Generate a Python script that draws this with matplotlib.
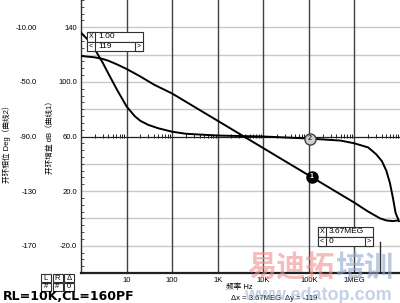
import matplotlib
matplotlib.use('Agg')
import matplotlib.pyplot as plt
from matplotlib.patches import Rectangle

plt.rcParams['font.family'] = ['Liberation Sans', 'Noto Sans CJK SC', 'DejaVu Sans']

# open loop gain (curve 1)
gain_freq = [1, 2, 3, 4, 6, 10, 20, 40, 100, 1e3, 1e4, 1e5, 1e6, 2e6, 3.67e6, 5e6, 7e6, 9e6]
gain_db = [119, 118, 116.8, 115.5, 113, 109.5, 104, 98, 91.5, 71.5, 51.5, 31.5, 11.5, 5, 0, -1.5, -2, -1.5]

# open loop phase (curve 2)
phase_freq = [1, 1.5, 2, 3, 4, 6, 10, 15, 20, 30, 50, 100, 200, 1e3, 1e4, 1e5, 5e5, 1e6,
              2e6, 3e6, 4e6, 5e6, 6e6, 7e6, 8e6, 9.5e6]
phase_deg = [-14, -20, -26, -36, -44, -55, -68, -75, -78.5, -81.5, -84, -86.5, -88, -89.3, -90,
             -91.5, -93, -95, -98, -103, -108, -115, -124, -135, -146, -152]

x_ticks = [10, 100, 1e3, 1e4, 1e5, 1e6]
x_labels = ['10', '100', '1K', '10K', '100K', '1MEG']
gain_ticks = [140, 100, 60, 20, -20]
gain_labels = ['140', '100.0', '60.0', '20.0', '-20.0']
phase_ticks = [-10, -50, -90, -130, -170]
phase_labels = ['-10.00', '-50.0', '-90.0', '-130', '-170']

cursor2 = (3.67e6, 0)
mark1 = (1.17e5, 30.6)
mark2 = (1.05e5, -91.5)

fig = plt.figure(figsize=(4.0, 3.03), dpi=100)
ax = fig.add_axes([81/400, 30/303, 319/400, 273/303])
ax.set_xscale('log')
ax.set_xlim(1, 1e7)
ax.set_ylim(-40, 160)

for s in ['top', 'right']:
    ax.spines[s].set_visible(False)
ax.spines['left'].set_color('#303030')
ax.spines['left'].set_linewidth(1.0)
ax.spines['bottom'].set_color('#202020')
ax.spines['bottom'].set_linewidth(1.6)

# grid
for y in [140, 120, 100, 80, 40, 20, 0, -20]:
    ax.axhline(y, color='#c8c8c8', lw=1.0, zorder=0)
for x in x_ticks:
    ax.axvline(x, color='#404040', lw=1.0, zorder=1)
ax.axhline(60, color='#202020', lw=0.9, zorder=1)
mid = ax.secondary_xaxis(0.5)
mid.spines['bottom'].set_visible(False)
mid.spines['top'].set_visible(False)
mid.set_xticks([])
mid.xaxis.set_minor_locator(matplotlib.ticker.LogLocator(base=10, subs=range(2, 10), numticks=20))
mid.tick_params(which='minor', direction='inout', length=3, width=0.7, color='#202020', labelbottom=False)

ax.set_xticks(x_ticks)
ax.set_xticklabels(x_labels)
ax.xaxis.set_minor_locator(matplotlib.ticker.NullLocator())
ax.tick_params(axis='x', length=0, pad=3, labelsize=5.5)
ax.set_yticks(gain_ticks)
ax.set_yticklabels(gain_labels)
ax.yaxis.set_minor_locator(matplotlib.ticker.MultipleLocator(5))
ax.tick_params(axis='y', which='major', length=0, pad=3, labelsize=5.5)
ax.tick_params(axis='y', which='minor', direction='in', length=2, width=0.6, color='#303030')

ax2 = ax.twinx()
ax2.set_ylim(-190, 10)
for s in ax2.spines.values():
    s.set_visible(False)
ax2.yaxis.set_ticks_position('left')
ax2.set_yticks(phase_ticks)
ax2.set_yticklabels(phase_labels)
ax2.tick_params(axis='y', length=0, pad=32, labelsize=5.5)

ax.plot(gain_freq, gain_db, color='black', lw=1.4, zorder=3)
ax2.plot(phase_freq, phase_deg, color='black', lw=1.4, zorder=3)

# markers 1 and 2
ax.plot(*mark1, 'o', ms=8, mfc='black', mec='black', zorder=5)
ax.text(*mark1, '1', color='white', fontsize=5, fontweight='bold', ha='center', va='center', zorder=6)
ax2.plot(*mark2, 'o', ms=8, mfc='#d0d0d0', mec='#404040', mew=1, zorder=5)
ax2.text(*mark2, '2', color='#303030', fontsize=5, fontweight='bold', ha='center', va='center', zorder=6)

# cursor line
ax.plot([cursor2[0], cursor2[0]], [-40, -17], color='#303030', lw=1.0, zorder=2)


def cursor_box(x0, y0, w, xval, yval):
    # x0, y0 = top-left corner in pixels
    h = 9.5
    def R(x, y, ww, hh):
        fig.add_artist(Rectangle((x/400, 1 - (y + hh)/303), ww/400, hh/303, transform=fig.transFigure,
                                 fc='white', ec='#303030', lw=0.8, zorder=10))
    R(x0, y0, w, h)
    R(x0, y0, 8, h)
    R(x0, y0 + h, w, h)
    R(x0, y0 + h, 8, h)
    R(x0 + w - 8, y0 + h, 8, h)
    fig.text((x0 + 4)/400, 1 - (y0 + h/2)/303, 'X', fontsize=5, ha='center', va='center', zorder=11)
    fig.text((x0 + 4)/400, 1 - (y0 + 1.5*h)/303, '<', fontsize=5, ha='center', va='center', zorder=11)
    fig.text((x0 + w - 4)/400, 1 - (y0 + 1.5*h)/303, '>', fontsize=5, ha='center', va='center', zorder=11)
    fig.text((x0 + 11)/400, 1 - (y0 + h/2)/303, xval, fontsize=6, ha='left', va='center', zorder=11)
    fig.text((x0 + 11)/400, 1 - (y0 + 1.5*h)/303, yval, fontsize=6, ha='left', va='center', zorder=11)


cursor_box(87, 32, 56, '1.00', '119')
cursor_box(318, 227, 55, '3.67MEG', '0')

# axis titles
fig.text(50/400, 1 - 136/303, '开环增益 dB（曲线1）', rotation=90, fontsize=5.5, ha='center', va='center')
fig.text(7/400, 1 - 142/303, '开环相位 Deg（曲线2）', rotation=90, fontsize=5.5, ha='center', va='center')
fig.text(239/400, 1 - 287/303, '频率 Hz', fontsize=5.5, ha='center', va='center')
fig.text(274/400, 1 - 299/303, 'Δx = 3.67MEG  Δy = -119', fontsize=5.5, ha='center', va='center')

# L R delta boxes
for i, (a, b) in enumerate([('L', '#'), ('R', '#'), ('Δ', '0')]):
    x = 41 + i*11.5
    for j, t in enumerate([a, b]):
        y = 274 + j*8.5
        fig.add_artist(Rectangle((x/400, 1 - (y + 8)/303), 10/400, 8/303, transform=fig.transFigure,
                                 fc='white', ec='#303030', lw=0.8))
        fig.text((x + 5)/400, 1 - (y + 4)/303, t, fontsize=5.5, ha='center', va='center')

fig.text(3/400, 1 - 297/303, 'RL=10K,CL=160PF', fontsize=9, fontweight='bold', family='DejaVu Sans',
         ha='left', va='center')

# watermark
fig.text(247/400, 1 - 268/303, '易迪拓', fontsize=21, fontweight='bold', color='#f09090', alpha=0.6,
         ha='left', va='center', zorder=20)
fig.text(335/400, 1 - 268/303, '培训', fontsize=21, fontweight='bold', color='#8fa8cc', alpha=0.6,
         ha='left', va='center', zorder=20)
fig.text(318/400, 1 - 295/303, 'www.edatop.com', fontsize=13, fontweight='bold', color='#9fb4d4', alpha=0.6,
         ha='center', va='center', zorder=20)

fig.savefig('out.png', dpi=100)
